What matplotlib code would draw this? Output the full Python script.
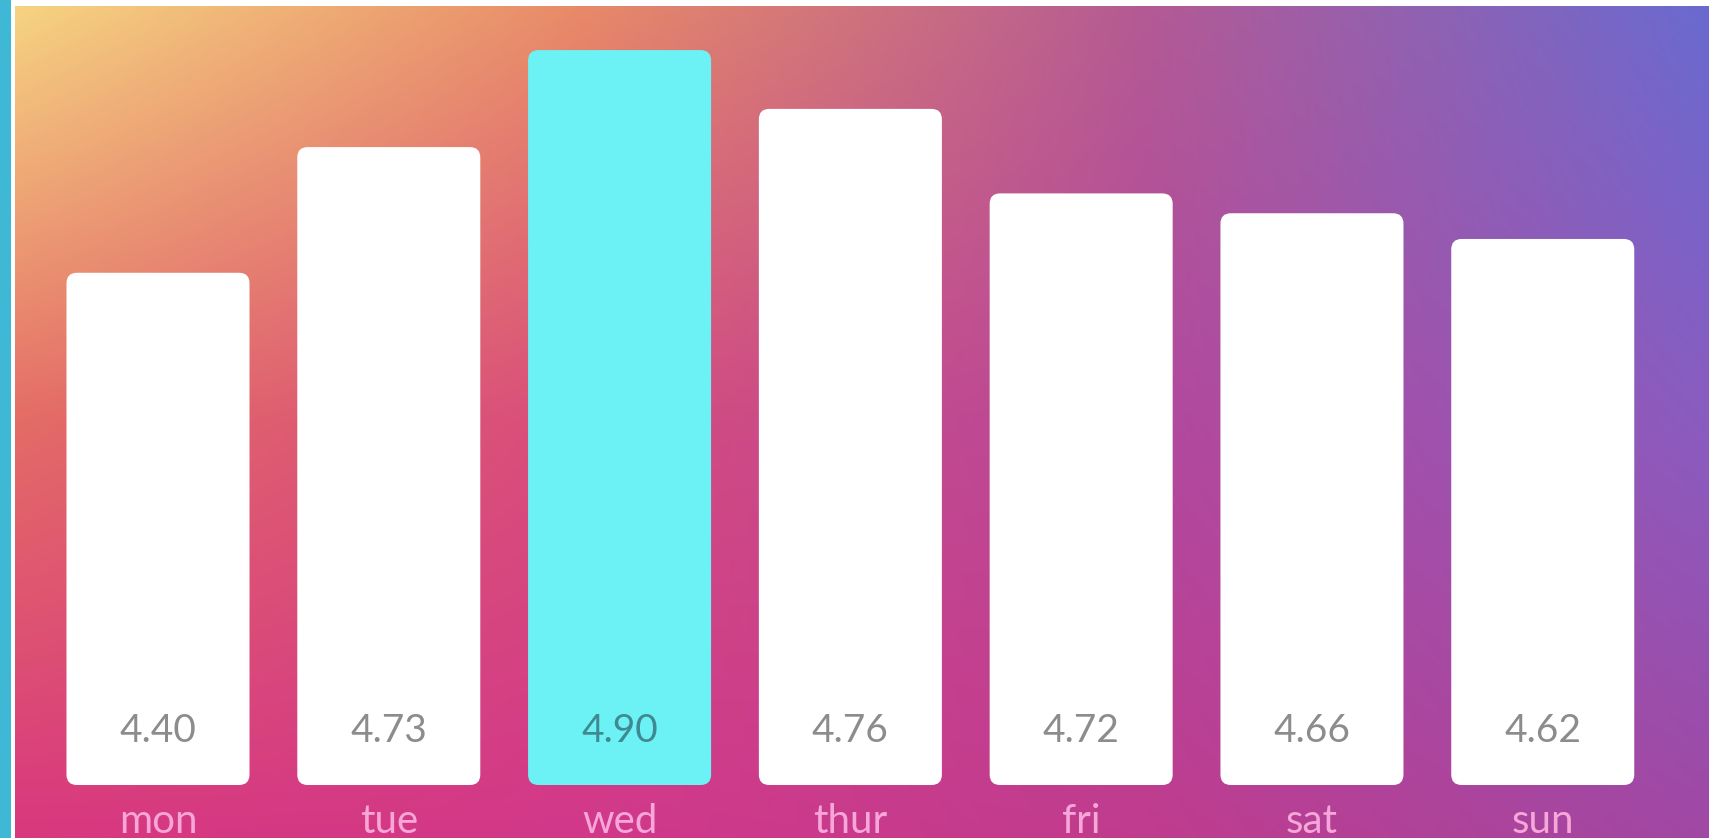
import numpy as np
import matplotlib
matplotlib.use('Agg')
import matplotlib.pyplot as plt
from matplotlib.colors import to_rgb
from matplotlib.patches import FancyBboxPatch, Rectangle

# data
days = ['mon', 'tue', 'wed', 'thur', 'fri', 'sat', 'sun']
ratings = [4.40, 4.73, 4.90, 4.76, 4.72, 4.66, 4.62]
# bar lengths as drawn in the graphic (% of the tallest bar)
bar_heights = [69.7, 86.8, 100.0, 92.0, 80.5, 77.8, 74.3]
highlight = 'wed'

W, H = 1719, 838
fig = plt.figure(figsize=(W / 100, H / 100), dpi=100, facecolor='white')

# left accent strip
fig.patches.append(Rectangle((0, 0), 11 / W, 1, transform=fig.transFigure,
                             facecolor='#3eb8d4', edgecolor='none'))

# background gradient (control colours, bilinear blend)
GRAD = [
    ['#f6d482', '#e88a68', '#b45a94', '#6a6ad0'],
    ['#e46c66', '#d84c7c', '#b4489c', '#8a5cc0'],
    ['#d8387e', '#d2388a', '#c03c8e', '#a048a4'],
]
ctrl = np.array([[to_rgb(c) for c in row] for row in GRAD])
ny, nx = 240, 480
xs = np.linspace(0, ctrl.shape[1] - 1, nx)
ys = np.linspace(0, ctrl.shape[0] - 1, ny)
rows = np.stack([np.stack([np.interp(xs, np.arange(ctrl.shape[1]), ctrl[r, :, ch])
                           for ch in range(3)], -1) for r in range(ctrl.shape[0])])
img = np.empty((ny, nx, 3))
for j, y in enumerate(ys):
    r0 = int(min(np.floor(y), ctrl.shape[0] - 2))
    t = y - r0
    img[j] = (1 - t) * rows[r0] + t * rows[r0 + 1]

pos = [15 / W, 0, 1693 / W, 832 / H]
bg = fig.add_axes(pos)
bg.imshow(img, aspect='auto', extent=(0, 1, 0, 1), interpolation='bilinear')
bg.axis('off')

# bars
ax = fig.add_axes(pos)
ax.patch.set_alpha(0)
ax.axis('off')
ax.set_xlim(-0.6196, 6.716)
ax.set_ylim(-7.21, 106.0)

x = np.arange(len(days))
colors = ['#6cf2f4' if d == highlight else 'white' for d in days]
bars = ax.bar(x, bar_heights, width=0.793, color=colors)

# px per data unit, to keep corner rounding circular
p0 = ax.transData.transform((0, 0))
p1 = ax.transData.transform((1, 1))
aspect = (p1[0] - p0[0]) / (p1[1] - p0[1])
for b, c in zip(bars, colors):
    bx, by, bw, bh = b.get_x(), b.get_y(), b.get_width(), b.get_height()
    b.remove()
    ax.add_patch(FancyBboxPatch((bx, by), bw, bh,
                                boxstyle='round,pad=0,rounding_size=0.045',
                                mutation_aspect=aspect,
                                facecolor=c, edgecolor='none'))

FONT = ['Lato', 'DejaVu Sans']
for i, (d, v) in enumerate(zip(days, ratings)):
    tc = '#3f8a92' if d == highlight else '#8c8c8c'
    ax.text(i, 5.85, f'{v:.2f}', ha='center', va='baseline', fontsize=28,
            color=tc, family=FONT, fontweight='normal')
    ax.text(i, -6.5, d, ha='center', va='baseline', fontsize=29,
            color='#f6a6d8', family=FONT, fontweight='normal', clip_on=False)

fig.savefig('out.png', dpi=100, facecolor='white')
